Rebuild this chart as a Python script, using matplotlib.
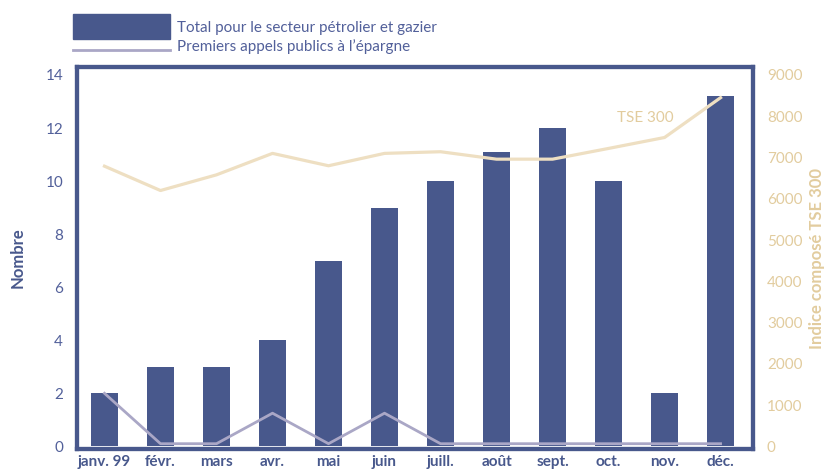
#Importing necessary libraries
import matplotlib
matplotlib.use("Agg")
from matplotlib import pyplot as plt
from matplotlib.patches import Rectangle
from matplotlib.lines import Line2D

plt.rcParams['font.family'] = ['Lato', 'DejaVu Sans']

#Data
months = ["janv. 99", "févr.", "mars", "avr.", "mai", "juin",
          "juill.", "août", "sept.", "oct.", "nov.", "déc."]
total_oil_gas = [2, 3, 3, 4, 7, 9, 10, 11.1, 12, 10, 2, 13.2]
ipo = [2, 0.1, 0.1, 1.25, 0.1, 1.25, 0.1, 0.1, 0.1, 0.1, 0.1, 0.1]
tse300 = [6790, 6200, 6580, 7100, 6800, 7100, 7140, 6960, 6960, 7220, 7485, 8450]
left_ticks = [0, 2, 4, 6, 8, 10, 12, 14]
right_ticks = [0, 1000, 2000, 3000, 4000, 5000, 6000, 7000, 8000, 9000]

#Colours
navy = "#48588c"
navy_text = "#52609a"
lavender = "#aaa7c6"
tan_line = "#eedfc2"
tan_text = "#e2cc9e"
grid_col = "#f6f0e4"

fig = plt.figure(figsize=(8.3, 4.71), dpi=100)
ax = fig.add_axes([0.0928, 0.0467, 0.8145, 0.811])

x = list(range(len(months)))

#Bars and IPO line on the left axis
ax.bar(x, total_oil_gas, width=0.477, color=navy, zorder=2)
ax.plot(x, ipo, color=lavender, linewidth=2, zorder=3)

ax.set_xlim(-0.49, 11.58)
ymin, ymax = -0.1, 14.3
ax.set_ylim(ymin, ymax)
ax.set_yticks(left_ticks)
ax.set_xticks(x)
ax.set_xticklabels(months, fontweight='bold', fontsize=11, color=navy)
ax.tick_params(axis='x', length=0, pad=4)
ax.tick_params(axis='y', length=0, pad=10, labelsize=11, labelcolor=navy_text)
ax.grid(axis='y', color=grid_col, linewidth=1.3)
ax.set_axisbelow(True)
for gl in ax.get_ygridlines():
    if gl.get_ydata()[0] in (0, 14):
        gl.set_visible(False)
ax.set_ylabel("Nombre", fontsize=12, fontweight='bold', color=navy, labelpad=14)

#TSE 300 on the right axis
ax2 = ax.twinx()
ax2.plot(x, tse300, color=tan_line, linewidth=2.3, zorder=4)
ax2.set_ylim(ymin * 9000 / 14, ymax * 9000 / 14)
ax2.set_yticks(right_ticks)
ax2.tick_params(axis='y', length=0, pad=10, labelsize=11, labelcolor=tan_text)
ax2.set_ylabel("Indice composé TSE 300", fontsize=12, fontweight='bold',
               color=tan_text, labelpad=5)
ax2.text(9.66, 7950, "TSE 300", color=tan_text, fontsize=11,
         ha='center', va='center')

for a in (ax, ax2):
    for s in a.spines.values():
        s.set_color(navy)
        s.set_linewidth(3)

#Legend drawn by hand in figure coordinates
fig.add_artist(Rectangle((0.088, 0.9172), 0.1169, 0.0531,
                         transform=fig.transFigure, color=navy))
fig.add_artist(Line2D([0.088, 0.2049], [0.8938, 0.8938],
                      transform=fig.transFigure, color=lavender, linewidth=2))
fig.text(0.2133, 0.9406, "Total pour le secteur pétrolier et gazier",
         fontsize=11, color=navy_text, va='center')
fig.text(0.2133, 0.9009, "Premiers appels publics à l’épargne",
         fontsize=11, color=navy_text, va='center')

plt.savefig("out.png", dpi=100)
